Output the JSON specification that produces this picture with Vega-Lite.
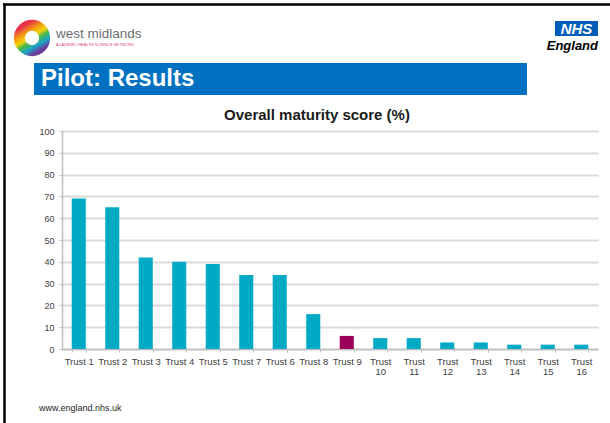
{
  "$schema": "https://vega.github.io/schema/vega-lite/v6.json",
  "width": 536,
  "height": 218,
  "autosize": {"type": "none"},
  "padding": {"left": 62, "top": 131, "right": 12, "bottom": 74},
  "background": "white",
  "config": {
    "view": {"stroke": null},
    "font": "Liberation Sans",
    "axis": {"labelFont": "Liberation Sans", "titleFont": "Liberation Sans"}
  },
  "resolve": {"scale": {"x": "independent", "y": "independent", "color": "independent"}},
  "layer": [
    {
      "data": {
        "values": [
          {"trust": "Trust 1", "score": 69},
          {"trust": "Trust 2", "score": 65},
          {"trust": "Trust 3", "score": 42},
          {"trust": "Trust 4", "score": 40},
          {"trust": "Trust 5", "score": 39},
          {"trust": "Trust 7", "score": 34},
          {"trust": "Trust 6", "score": 34},
          {"trust": "Trust 8", "score": 16},
          {"trust": "Trust 9", "score": 6},
          {"trust": "Trust 10", "score": 5},
          {"trust": "Trust 11", "score": 5},
          {"trust": "Trust 12", "score": 3},
          {"trust": "Trust 13", "score": 3},
          {"trust": "Trust 14", "score": 2},
          {"trust": "Trust 15", "score": 2},
          {"trust": "Trust 16", "score": 2}
        ]
      },
      "mark": {"type": "bar"},
      "encoding": {
        "x": {
          "field": "trust",
          "type": "nominal",
          "sort": null,
          "scale": {"paddingInner": 0.58, "paddingOuter": 0.29},
          "axis": {
            "title": null,
            "labelAngle": 0,
            "labelFontSize": 9.5,
            "labelColor": "#404040",
            "labelPadding": 4,
            "labelLineHeight": 10,
            "labelExpr": "length(datum.label) > 7 ? ['Trust', slice(datum.label, 6)] : datum.label",
            "tickBand": "extent",
            "tickSize": 3,
            "tickColor": "#bfbfbf",
            "domainColor": "#bfbfbf",
            "domainWidth": 1.5,
            "grid": false
          }
        },
        "y": {
          "field": "score",
          "type": "quantitative",
          "scale": {"domain": [0, 100]},
          "axis": {
            "title": null,
            "values": [0, 10, 20, 30, 40, 50, 60, 70, 80, 90, 100],
            "labelFontSize": 9,
            "labelColor": "#404040",
            "labelPadding": 5,
            "tickSize": 3,
            "tickColor": "#bfbfbf",
            "domainColor": "#bfbfbf",
            "domainWidth": 1.5,
            "gridColor": "#d9d9d9",
            "gridWidth": 1.8
          }
        },
        "color": {
          "condition": {"test": "datum.trust === 'Trust 9'", "value": "#9C0058"},
          "value": "#00AAC4"
        }
      }
    },
    {
      "data": {"values": [{}]},
      "mark": {"type": "rule", "color": "#000000", "strokeWidth": 2.5},
      "encoding": {
        "x": {"datum": 3, "type": "quantitative", "scale": {"domain": [0, 610], "range": [-62, 548]}, "axis": null},
        "x2": {"datum": 610},
        "y": {"datum": 4.6, "type": "quantitative", "scale": {"domain": [0, 423], "range": [-131, 292]}, "axis": null}
      }
    },
    {
      "data": {"values": [{}]},
      "mark": {"type": "rule", "color": "#000000", "strokeWidth": 2.5},
      "encoding": {
        "x": {"datum": 4.5, "type": "quantitative", "scale": {"domain": [0, 610], "range": [-62, 548]}, "axis": null},
        "y": {"datum": 3.5, "type": "quantitative", "scale": {"domain": [0, 423], "range": [-131, 292]}, "axis": null},
        "y2": {"datum": 423}
      }
    },
    {
      "data": {"values": [{}]},
      "mark": {
        "type": "point",
        "shape": "circle",
        "filled": false,
        "size": 640,
        "strokeWidth": 11,
        "opacity": 1,
        "stroke": {
          "gradient": "linear",
          "x1": 0.2, "y1": 0, "x2": 0.8, "y2": 1,
          "stops": [
            {"offset": 0, "color": "#e8304a"},
            {"offset": 0.25, "color": "#f39c12"},
            {"offset": 0.45, "color": "#f5d20a"},
            {"offset": 0.6, "color": "#4cb848"},
            {"offset": 0.8, "color": "#1aa6c9"},
            {"offset": 1, "color": "#6a3d9a"}
          ]
        }
      },
      "encoding": {
        "x": {"datum": 32, "type": "quantitative", "scale": {"domain": [0, 610], "range": [-62, 548]}, "axis": null},
        "y": {"datum": 38, "type": "quantitative", "scale": {"domain": [0, 423], "range": [-131, 292]}, "axis": null}
      }
    },
    {
      "data": {"values": [{}]},
      "mark": {"type": "text", "text": "west midlands", "font": "Liberation Sans", "fontSize": 13.5, "color": "#6d6e71", "align": "left", "baseline": "alphabetic"},
      "encoding": {
        "x": {"datum": 56, "type": "quantitative", "scale": {"domain": [0, 610], "range": [-62, 548]}, "axis": null},
        "y": {"datum": 38, "type": "quantitative", "scale": {"domain": [0, 423], "range": [-131, 292]}, "axis": null}
      }
    },
    {
      "data": {"values": [{}]},
      "mark": {"type": "text", "text": "ACADEMIC HEALTH SCIENCE NETWORK", "font": "Liberation Sans", "fontSize": 4, "color": "#e0457b", "align": "left", "baseline": "alphabetic"},
      "encoding": {
        "x": {"datum": 56, "type": "quantitative", "scale": {"domain": [0, 610], "range": [-62, 548]}, "axis": null},
        "y": {"datum": 46, "type": "quantitative", "scale": {"domain": [0, 423], "range": [-131, 292]}, "axis": null}
      }
    },
    {
      "data": {"values": [{}]},
      "mark": {"type": "rect", "color": "#005EB8"},
      "encoding": {
        "x": {"datum": 555, "type": "quantitative", "scale": {"domain": [0, 610], "range": [-62, 548]}, "axis": null},
        "x2": {"datum": 598},
        "y": {"datum": 21, "type": "quantitative", "scale": {"domain": [0, 423], "range": [-131, 292]}, "axis": null},
        "y2": {"datum": 36}
      }
    },
    {
      "data": {"values": [{}]},
      "mark": {"type": "text", "text": "NHS", "font": "Liberation Sans", "fontSize": 15, "fontWeight": "bold", "fontStyle": "italic", "color": "#ffffff", "align": "center", "baseline": "alphabetic"},
      "encoding": {
        "x": {"datum": 576.5, "type": "quantitative", "scale": {"domain": [0, 610], "range": [-62, 548]}, "axis": null},
        "y": {"datum": 34, "type": "quantitative", "scale": {"domain": [0, 423], "range": [-131, 292]}, "axis": null}
      }
    },
    {
      "data": {"values": [{}]},
      "mark": {"type": "text", "text": "England", "font": "Liberation Sans", "fontSize": 13, "fontWeight": "bold", "fontStyle": "italic", "color": "#000000", "align": "right", "baseline": "alphabetic"},
      "encoding": {
        "x": {"datum": 598, "type": "quantitative", "scale": {"domain": [0, 610], "range": [-62, 548]}, "axis": null},
        "y": {"datum": 50, "type": "quantitative", "scale": {"domain": [0, 423], "range": [-131, 292]}, "axis": null}
      }
    },
    {
      "data": {"values": [{}]},
      "mark": {"type": "rect", "color": "#0070C0"},
      "encoding": {
        "x": {"datum": 34, "type": "quantitative", "scale": {"domain": [0, 610], "range": [-62, 548]}, "axis": null},
        "x2": {"datum": 527},
        "y": {"datum": 63, "type": "quantitative", "scale": {"domain": [0, 423], "range": [-131, 292]}, "axis": null},
        "y2": {"datum": 95}
      }
    },
    {
      "data": {"values": [{}]},
      "mark": {"type": "text", "text": "Pilot: Results", "font": "Liberation Sans", "fontSize": 24, "fontWeight": "bold", "color": "#ffffff", "align": "left", "baseline": "alphabetic"},
      "encoding": {
        "x": {"datum": 41, "type": "quantitative", "scale": {"domain": [0, 610], "range": [-62, 548]}, "axis": null},
        "y": {"datum": 86, "type": "quantitative", "scale": {"domain": [0, 423], "range": [-131, 292]}, "axis": null}
      }
    },
    {
      "data": {"values": [{}]},
      "mark": {"type": "text", "text": "Overall maturity score (%)", "font": "Liberation Sans", "fontSize": 15, "fontWeight": "bold", "color": "#1a1a1a", "align": "center", "baseline": "alphabetic"},
      "encoding": {
        "x": {"datum": 317, "type": "quantitative", "scale": {"domain": [0, 610], "range": [-62, 548]}, "axis": null},
        "y": {"datum": 120, "type": "quantitative", "scale": {"domain": [0, 423], "range": [-131, 292]}, "axis": null}
      }
    },
    {
      "data": {"values": [{}]},
      "mark": {"type": "text", "text": "www.england.nhs.uk", "font": "Liberation Sans", "fontSize": 9, "color": "#262626", "align": "left", "baseline": "alphabetic"},
      "encoding": {
        "x": {"datum": 39, "type": "quantitative", "scale": {"domain": [0, 610], "range": [-62, 548]}, "axis": null},
        "y": {"datum": 411, "type": "quantitative", "scale": {"domain": [0, 423], "range": [-131, 292]}, "axis": null}
      }
    }
  ]
}
